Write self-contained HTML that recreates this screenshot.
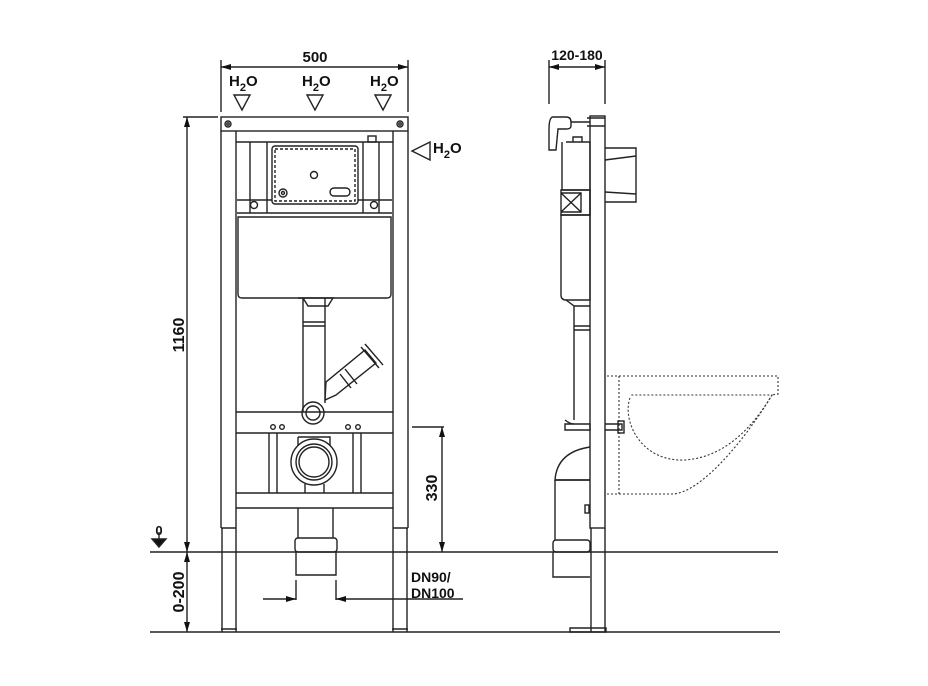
<!DOCTYPE html>
<html><head><meta charset="utf-8"><style>
html,body{margin:0;padding:0;background:#fff;}
svg{display:block}
text{font-family:"Liberation Sans",Arial,sans-serif;font-weight:bold;fill:#111}
</style></head><body>
<svg width="928" height="686" viewBox="0 0 928 686" xmlns="http://www.w3.org/2000/svg">
<defs>
<marker id="a" markerWidth="10" markerHeight="8" refX="10" refY="4" orient="auto-start-reverse" markerUnits="userSpaceOnUse"><path d="M0,1 L10,4 L0,7z" fill="#111"/></marker>
</defs>
<g fill="none" stroke="#222" stroke-width="1.4">
<line x1="150" y1="552" x2="778" y2="552"/>
<line x1="150" y1="632" x2="780" y2="632"/>
<line x1="221" y1="60" x2="221" y2="112"/><line x1="408" y1="60" x2="408" y2="112"/>
<line x1="221" y1="67" x2="408" y2="67" marker-start="url(#a)" marker-end="url(#a)"/>
<path d="M234,95 L250,95 L242,110z"/><path d="M307,95 L323,95 L315,110z"/><path d="M375,95 L391,95 L383,110z"/>
<path d="M430,142 L430,160 L412,151z"/>
<line x1="183" y1="117" x2="218" y2="117"/>
<line x1="187" y1="117" x2="187" y2="552" marker-start="url(#a)" marker-end="url(#a)"/>
<line x1="187" y1="552" x2="187" y2="632" marker-start="url(#a)" marker-end="url(#a)"/>
<path d="M152,539 L166,539 L159,547z" fill="#111"/><line x1="159" y1="532" x2="159" y2="540"/>
<rect x="221" y="117" width="187" height="14"/>
<circle cx="228" cy="124" r="3"/><circle cx="228" cy="124" r="1.2"/>
<circle cx="400" cy="124" r="3"/><circle cx="400" cy="124" r="1.2"/>
<line x1="221" y1="131" x2="221" y2="528"/><line x1="236" y1="131" x2="236" y2="528"/>
<line x1="393" y1="131" x2="393" y2="528"/><line x1="408" y1="131" x2="408" y2="528"/>
<path d="M222,528 V632 M236,528 V632 M221,528 H236 M221,629 H237"/>
<path d="M393,528 V632 M407,528 V632 M393,528 H408 M392,629 H408"/>
<line x1="236" y1="142" x2="393" y2="142"/>
<line x1="250" y1="142" x2="250" y2="213"/><line x1="267" y1="142" x2="267" y2="213"/>
<line x1="363" y1="142" x2="363" y2="213"/><line x1="379" y1="142" x2="379" y2="213"/>
<rect x="368" y="136" width="8" height="6"/>
<rect x="272" y="146" width="86" height="58" rx="3"/>
<rect x="275" y="149" width="80" height="52" stroke-dasharray="3,2"/>
<circle cx="314" cy="175" r="3.5"/><rect x="330" y="188" width="20" height="8" rx="4"/>
<circle cx="283" cy="193" r="4"/><circle cx="283" cy="193" r="1.5"/>
<path d="M237,200 H272 M358,200 H392 M237,213 H392"/>
<circle cx="254" cy="205" r="3.5"/><circle cx="374" cy="205" r="3.5"/>
<path d="M238,217 H391 V294 Q391,298 387,298 H242 Q238,298 238,294z"/>
<path d="M303,298 V412 M325,298 V403 M298,298 H333 L328,306 H308 L303,298"/>
<path d="M303,322 H325 M303,326 H325"/>
<path d="M325,400 L326,382 L365,350 L376,363 L336,395 Z"/>
<path d="M340,374 L351,388 M345,369 L357,384"/>
<path d="M361,347 L379,368 M365,344 L383,365"/>
<circle cx="313" cy="413" r="11"/><circle cx="313" cy="413" r="7"/>
<path d="M236,412 H393 M236,433 H393"/>
<circle cx="273" cy="427" r="2.3"/><circle cx="282" cy="427" r="2.3"/><circle cx="348" cy="427" r="2.3"/><circle cx="358" cy="427" r="2.3"/>
<path d="M269,433 V493 M277,433 V493 M353,433 V493 M361,433 V493"/>
<path d="M236,493 H393 M236,508 H393"/>
<path d="M298,437 H330 V446 M298,437 V446"/>
<circle cx="314" cy="462" r="23"/><circle cx="314" cy="462" r="18"/><circle cx="314" cy="462" r="15"/>
<path d="M305,484 V493 M324,484 V493"/>
<path d="M298,508 V538 M333,508 V538"/>
<rect x="295" y="538" width="42" height="14" rx="3"/>
<path d="M296,552 V575 H336 V552"/>
<path d="M296,580 V600 M336,580 V600"/>
<line x1="263" y1="599" x2="296" y2="599" marker-end="url(#a)"/>
<line x1="463" y1="599" x2="336" y2="599" marker-end="url(#a)"/>
<line x1="412" y1="427" x2="444" y2="427"/>
<line x1="442" y1="427" x2="442" y2="552" marker-start="url(#a)" marker-end="url(#a)"/>
<line x1="549" y1="60" x2="549" y2="104"/><line x1="605" y1="60" x2="605" y2="104"/>
<line x1="549" y1="67" x2="605" y2="67" marker-start="url(#a)" marker-end="url(#a)"/>
<rect x="590" y="116" width="15" height="412"/>
<path d="M591,528 V632 M605,528 V632 M570,628 H606 V632 H570z"/>
<path d="M587,118 H605 M587,126 H605 M571,122 H590"/>
<path d="M553,117 H566 Q571,117 571,122 V126 Q571,129 566,129 H558 L556,150 H549 V130 Q549,117 553,117z"/>
<path d="M605,148 H636 V202 H605 M605,160 L636,156 M605,192 L636,194"/>
<path d="M573,142 V137 H582 V142"/>
<path d="M566,142 H590 V300 H566 Q561,300 561,295 V215 H590 M562,142 V190 H590"/>
<path d="M561,190 H590 V215 H561z M561,193 L581,212 M581,193 L561,212 M561,193 H581 V212 H561"/>
<path d="M566,300 L574,306 V420 M590,306 H574 M574,326 H590 M574,330 H590"/>
<path d="M565,420 Q570,424 574,424"/>
<path d="M565,424 H590 V430 H565z M605,424 H622 V430 H605"/>
<rect x="618" y="421" width="6" height="12"/>
<path d="M590,447 Q557,452 555,480 H590"/>
<path d="M555,480 V540 M555,480 H590"/>
<rect x="585" y="505" width="4" height="8"/>
<rect x="553" y="540" width="37" height="12" rx="3"/>
<path d="M553,552 V577 H590"/>
</g>
<g fill="none" stroke="#333" stroke-width="1.1" stroke-dasharray="2,2">
<path d="M607,376 H778 V394 L772,395"/>
<path d="M619,376 V494 M607,494 H672 C700,494 745,440 772,395 H630"/>
<path d="M630,398 C622,420 640,462 685,460 C715,458 745,440 772,395"/>
</g>
<text x="315" y="62" font-size="15" text-anchor="middle">500</text>
<text x="229" y="86" font-size="15">H<tspan font-size="11" dy="5">2</tspan><tspan dy="-5">O</tspan></text>
<text x="302" y="86" font-size="15">H<tspan font-size="11" dy="5">2</tspan><tspan dy="-5">O</tspan></text>
<text x="370" y="86" font-size="15">H<tspan font-size="11" dy="5">2</tspan><tspan dy="-5">O</tspan></text>
<text x="433" y="153" font-size="15">H<tspan font-size="11" dy="5">2</tspan><tspan dy="-5">O</tspan></text>
<text x="577" y="60" font-size="14" text-anchor="middle">120-180</text>
<text x="159" y="535" font-size="13" text-anchor="middle">0</text>
<text font-size="16" text-anchor="middle" transform="translate(184,335) rotate(-90)">1160</text>
<text font-size="16" text-anchor="middle" transform="translate(184,592) rotate(-90)">0-200</text>
<text font-size="16" text-anchor="middle" transform="translate(437,488) rotate(-90)">330</text>
<text x="411" y="582" font-size="14">DN90/</text>
<text x="411" y="598" font-size="14">DN100</text>
</svg>
</body></html>
